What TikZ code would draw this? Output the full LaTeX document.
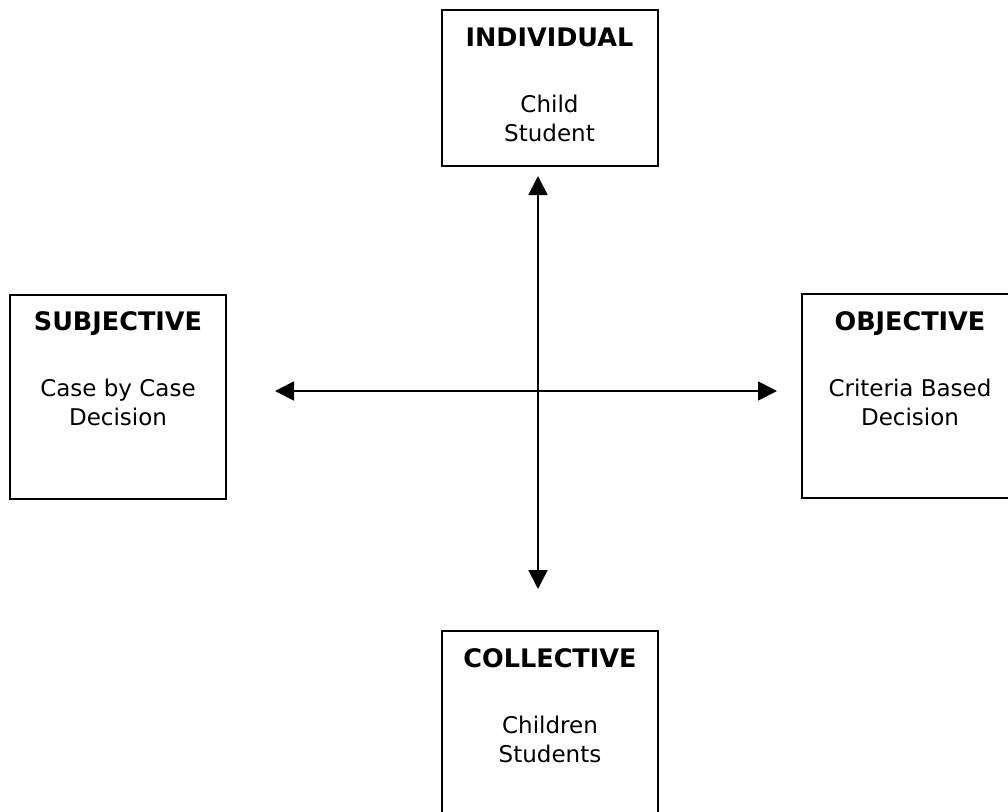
\documentclass[tikz,border=0pt]{standalone}
\usepackage{fontspec}
\setmainfont{DejaVu Sans}
\usetikzlibrary{arrows.meta, positioning}

\newcommand{\boxtitle}[1]{{\fontsize{25.5}{29}\selectfont\bfseries #1}}

\begin{document}
\begin{tikzpicture}[x=1pt,y=-1pt,>={Triangle[length=19pt,width=19pt]},
        box/.style={draw, line width=2pt, minimum width=216pt, minimum height=204pt, inner sep=0pt},
        boxtext/.style={align=center, anchor=base, font=\fontsize{23}{29}\selectfont}]
    % \draw[help lines] (0,0) grid[step=50] (1008,811);
    \useasboundingbox (0,0) rectangle (1008,811);

    \node[box, minimum height=156pt] (ind)  at (549.5,88)  {};
    \node[box]                       (subj) at (118,396.5) {};
    \node[box]                       (obj)  at (910,396)   {};
    \node[box]                       (coll) at (550,733)   {};

    % base anchor sits on the last line
    \node[boxtext] (ind text)  at ([yshift=-132pt]ind.north)  {\boxtitle{INDIVIDUAL}\\[37pt]Child\\Student};
    \node[boxtext] (subj text) at ([yshift=-132pt]subj.north) {\boxtitle{SUBJECTIVE}\\[37pt]Case by Case\\Decision};
    \node[boxtext] (obj text)  at ([yshift=-132pt]obj.north)  {\boxtitle{OBJECTIVE}\\[37pt]Criteria Based\\Decision};
    \node[boxtext] (coll text) at ([yshift=-132pt]coll.north) {\boxtitle{COLLECTIVE}\\[37pt]Children\\Students};

    \coordinate (up)    at (538,176);
    \coordinate (down)  at (538,589);
    \coordinate (left)  at (275,391);
    \coordinate (right) at (777,391);

    \draw[<->, line width=1.8pt] (up) -- (down);
    \draw[<->, line width=1.8pt] (left) -- (right);
\end{tikzpicture}
\end{document}
